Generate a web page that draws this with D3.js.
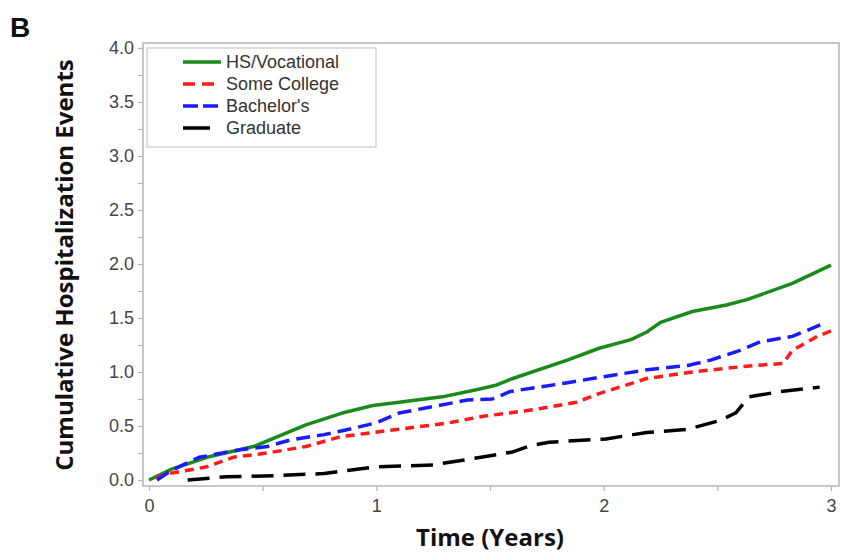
<!DOCTYPE html>
<html>
<head>
<meta charset="utf-8">
<script src="https://cdn.jsdelivr.net/npm/d3@7"></script>
<style>
  body { margin: 0; background: #fff; }
</style>
</head>
<body>
<script>
// series (time in years, cumulative events)
var seriesNames = ["HS/Vocational", "Some College", "Bachelor's", "Graduate"];

var hsTime = [0, 0.1, 0.255, 0.46, 0.69, 0.85, 0.985, 1.1, 1.29, 1.45, 1.53, 1.6, 1.84, 1.98, 2.12, 2.19, 2.25, 2.39, 2.54, 2.63, 2.83, 3.0];
var hsValue = [0, 0.1, 0.21, 0.31, 0.51, 0.62, 0.69, 0.72, 0.77, 0.84, 0.88, 0.94, 1.11, 1.22, 1.30, 1.37, 1.46, 1.56, 1.62, 1.67, 1.82, 1.99];

var scTime = [0.03, 0.09, 0.25, 0.37, 0.52, 0.69, 0.84, 1.06, 1.25, 1.32, 1.47, 1.69, 1.88, 1.98, 2.19, 2.39, 2.61, 2.79, 2.83, 2.94, 3.0];
var scValue = [0.02, 0.06, 0.12, 0.21, 0.25, 0.31, 0.40, 0.46, 0.51, 0.53, 0.59, 0.65, 0.72, 0.80, 0.94, 1.00, 1.05, 1.08, 1.20, 1.33, 1.38];

var baTime = [0.035, 0.1, 0.22, 0.40, 0.52, 0.62, 0.77, 0.90, 1.0, 1.10, 1.25, 1.40, 1.51, 1.59, 1.84, 1.98, 2.19, 2.37, 2.47, 2.60, 2.69, 2.83, 2.97];
var baValue = [0, 0.09, 0.21, 0.28, 0.31, 0.37, 0.42, 0.48, 0.53, 0.62, 0.68, 0.74, 0.75, 0.82, 0.90, 0.95, 1.02, 1.06, 1.11, 1.20, 1.28, 1.33, 1.45];

var grTime = [0.17, 0.34, 0.55, 0.77, 0.99, 1.25, 1.46, 1.60, 1.68, 1.76, 2.01, 2.13, 2.19, 2.37, 2.51, 2.58, 2.64, 2.78, 2.95];
var grValue = [0.0, 0.03, 0.04, 0.06, 0.12, 0.14, 0.21, 0.26, 0.32, 0.35, 0.38, 0.42, 0.44, 0.47, 0.55, 0.62, 0.77, 0.82, 0.86];

var yTicks = [0, 0.5, 1, 1.5, 2, 2.5, 3, 3.5, 4];
var xTicks = [0, 1, 2, 3];

var w = 841, h = 553;
var frame = { left: 143, right: 839, top: 43, bottom: 486 };

var svg = d3.select("body").append("svg")
  .attr("width", w)
  .attr("height", h);

var x = d3.scaleLinear().domain([0, 3]).range([149, 831]);
var y = d3.scaleLinear().domain([0, 4]).range([480, 48]);

var axisColor = "#b4b4b4";
var labelFont = "'Liberation Sans', Arial, sans-serif";

// plot frame
svg.append("rect")
  .attr("x", frame.left)
  .attr("y", frame.top)
  .attr("width", frame.right - frame.left)
  .attr("height", frame.bottom - frame.top)
  .attr("fill", "none")
  .attr("stroke", axisColor)
  .attr("stroke-width", 1.5);

// y axis (ticks every 0.25, labels every 0.5)
var yAxis = d3.axisLeft(y)
  .tickValues(d3.range(0, 4.01, 0.25))
  .tickSize(5)
  .tickPadding(4)
  .tickFormat(function(d) { return yTicks.indexOf(d) >= 0 ? d3.format(".1f")(d) : ""; });

var gy = svg.append("g")
  .attr("transform", "translate(" + frame.left + ",0)")
  .call(yAxis);
gy.select(".domain").remove();
gy.selectAll("line").attr("stroke", axisColor).attr("stroke-width", 1.2);
gy.selectAll("text")
  .attr("font-family", labelFont)
  .attr("font-size", "18px")
  .attr("fill", "#444");

// x axis (ticks every 0.5, labels on integers)
var xAxis = d3.axisBottom(x)
  .tickValues(d3.range(0, 3.01, 0.5))
  .tickSize(5)
  .tickPadding(8)
  .tickFormat(function(d) { return xTicks.indexOf(d) >= 0 ? d : ""; });

var gx = svg.append("g")
  .attr("transform", "translate(0," + frame.bottom + ")")
  .call(xAxis);
gx.select(".domain").remove();
gx.selectAll("line").attr("stroke", axisColor).attr("stroke-width", 1.2);
gx.selectAll("text")
  .attr("font-family", labelFont)
  .attr("font-size", "18px")
  .attr("fill", "#444");

// curves
var series = [
  { name: seriesNames[0], t: hsTime, v: hsValue, color: "#1a8a1a", dash: null },
  { name: seriesNames[1], t: scTime, v: scValue, color: "#ff1a1a", dash: "9,6" },
  { name: seriesNames[2], t: baTime, v: baValue, color: "#1a1aff", dash: "14,7" },
  { name: seriesNames[3], t: grTime, v: grValue, color: "#000000", dash: "22,10" }
];

var line = d3.line()
  .x(function(d) { return x(d[0]); })
  .y(function(d) { return y(d[1]); });

svg.selectAll("path.curve")
  .data(series)
  .enter()
  .append("path")
  .attr("class", "curve")
  .attr("d", function(s) { return line(d3.zip(s.t, s.v)); })
  .attr("fill", "none")
  .attr("stroke", function(s) { return s.color; })
  .attr("stroke-width", 3.5)
  .attr("stroke-linejoin", "round")
  .attr("stroke-dasharray", function(s) { return s.dash; });

// legend
svg.append("rect")
  .attr("x", 147).attr("y", 48)
  .attr("width", 229).attr("height", 99)
  .attr("fill", "#fff")
  .attr("stroke", "#c8c8c8")
  .attr("stroke-width", 1.2);

var legendDash = [null, "12,7", "15,5", null];
var legendEnd = [221, 216, 220, 210];

var lg = svg.selectAll("g.legend")
  .data(series)
  .enter()
  .append("g")
  .attr("class", "legend")
  .attr("transform", function(d, i) { return "translate(0," + (62 + i * 22) + ")"; });

lg.append("line")
  .attr("x1", 183)
  .attr("x2", function(d, i) { return legendEnd[i]; })
  .attr("stroke", function(d) { return d.color; })
  .attr("stroke-width", 3.5)
  .attr("stroke-dasharray", function(d, i) { return legendDash[i]; });

lg.append("text")
  .attr("x", 226)
  .attr("dy", "0.35em")
  .attr("font-family", labelFont)
  .attr("font-size", "18px")
  .attr("fill", "#333")
  .text(function(d) { return d.name; });

// titles
svg.append("text")
  .attr("x", 10).attr("y", 37)
  .attr("font-family", labelFont)
  .attr("font-weight", "bold")
  .attr("font-size", "28px")
  .attr("fill", "#111")
  .text("B");

svg.append("text")
  .attr("transform", "translate(73,265) rotate(-90)")
  .attr("text-anchor", "middle")
  .attr("font-family", "'Open Sans', sans-serif")
  .attr("font-weight", "bold")
  .attr("font-size", "24px")
  .attr("fill", "#111")
  .text("Cumulative Hospitalization Events");

svg.append("text")
  .attr("x", 490).attr("y", 546)
  .attr("text-anchor", "middle")
  .attr("font-family", "'Open Sans', sans-serif")
  .attr("font-weight", "bold")
  .attr("font-size", "24px")
  .attr("fill", "#111")
  .text("Time (Years)");
</script>
</body>
</html>
